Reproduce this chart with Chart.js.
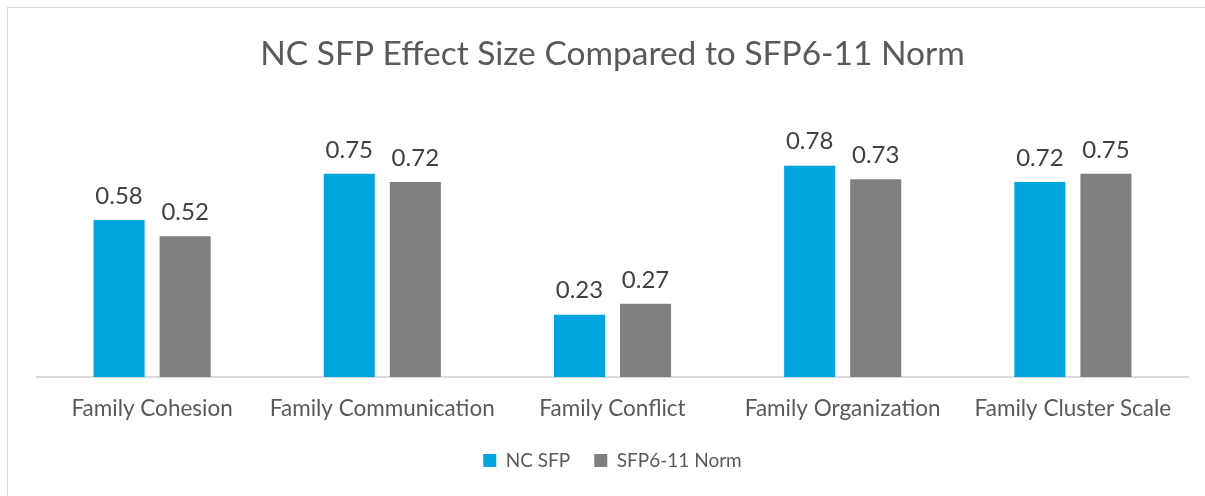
<!DOCTYPE html>
<html>
<head>
<meta charset="utf-8">
<script src="https://cdn.jsdelivr.net/npm/chart.js@4"></script>
<style>
  html, body { margin: 0; padding: 0; background: #fff; overflow: hidden; }
  #frame {
    position: absolute; left: 7px; top: 7px;
    width: 1210px; height: 500px;
    border: 1.5px solid #d9d9d9;
    box-sizing: border-box;
  }
  #wrap { position: absolute; left: 0; top: 0; width: 1205px; height: 496px; }
</style>
</head>
<body>
<div id="frame"></div>
<div id="wrap"><canvas id="chart"></canvas></div>
<script>
// données
const categories = ["Family Cohesion", "Family Communication", "Family Conflict", "Family Organization", "Family Cluster Scale"]
const ncSfp      = [0.58, 0.75, 0.23, 0.78, 0.72]
const normSfp    = [0.52, 0.72, 0.27, 0.73, 0.75]
const seriesNames = ["NC SFP", "SFP6-11 Norm"]

const FONT = "Lato, 'Open Sans', sans-serif"

// petit plugin maison pour écrire la valeur au-dessus de chaque barre
const valueLabels = {
  id: "valueLabels",
  afterDatasetsDraw(chart) {
    const { ctx } = chart
    ctx.save()
    ctx.fillStyle = "#404040"
    ctx.font = "24px " + FONT
    ctx.textAlign = "center"
    ctx.textBaseline = "bottom"
    chart.data.datasets.forEach((ds, i) => {
      chart.getDatasetMeta(i).data.forEach((bar, j) => {
        ctx.fillText(ds.data[j].toFixed(2), bar.x, bar.y - 12)
      })
    })
    ctx.restore()
  }
}

new Chart(document.getElementById("chart"), {
  type: "bar",
  data: {
    labels: categories,
    datasets: [
      { label: seriesNames[0], data: ncSfp, backgroundColor: "#00a5df" },
      { label: seriesNames[1], data: normSfp, backgroundColor: "#808080" },
    ],
  },
  options: {
    responsive: true,
    maintainAspectRatio: false,
    animation: false,
    layout: { padding: { left: 37, right: 17, top: 0, bottom: 16 } },
    categoryPercentage: 0.574,
    barPercentage: 0.773,
    scales: {
      x: {
        grid: { display: false },
        border: { color: "#d9d9d9", width: 2 },
        ticks: { color: "#595959", font: { family: FONT, size: 22.5 }, padding: 10, maxRotation: 0 },
        afterFit(scale) { scale.height = 50 },
      },
      y: { display: false, min: 0, max: 0.9 },
    },
    plugins: {
      title: {
        display: true,
        text: "NC SFP Effect Size Compared to SFP6-11 Norm",
        color: "#595959",
        font: { family: FONT, size: 33.5, weight: "normal" },
        padding: { top: 34, bottom: 59 },
      },
      legend: {
        position: "bottom",
        labels: {
          color: "#595959",
          font: { family: FONT, size: 19 },
          boxWidth: 13,
          boxHeight: 13,
          padding: 24,
        },
      },
      tooltip: { enabled: false },
    },
  },
  plugins: [valueLabels],
})
</script>
</body>
</html>
